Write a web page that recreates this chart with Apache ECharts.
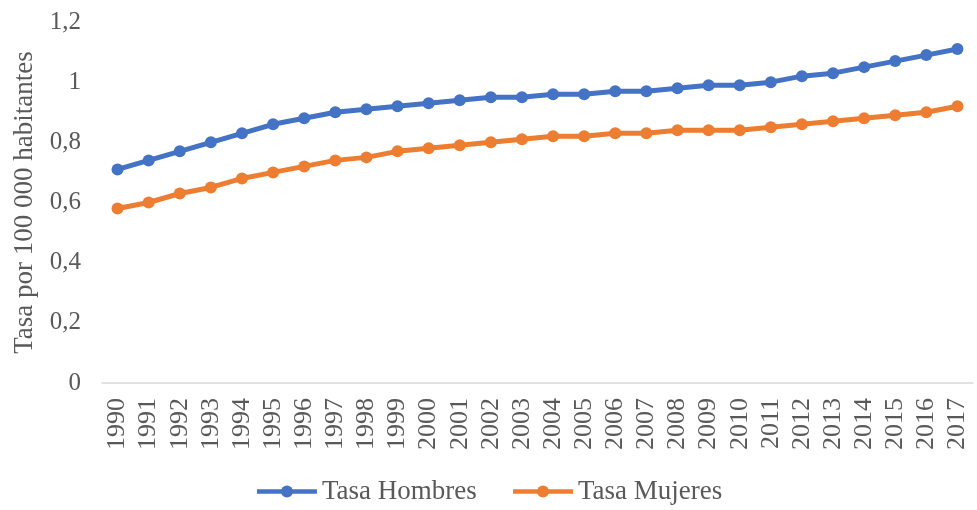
<!DOCTYPE html>
<html>
<head>
<meta charset="utf-8">
<script src="https://cdn.jsdelivr.net/npm/echarts@6/dist/echarts.min.js"></script>
<style>
  html, body { margin: 0; padding: 0; background: #ffffff; }
  #chart { width: 977px; height: 510px; }
</style>
</head>
<body>
<div id="chart"></div>
<script>
// Years on the category axis
var years = ['1990','1991','1992','1993','1994','1995','1996','1997','1998','1999',
             '2000','2001','2002','2003','2004','2005','2006','2007','2008','2009',
             '2010','2011','2012','2013','2014','2015','2016','2017'];

// Rate per 100 000 inhabitants, men
var tasaHombres = [0.71,0.74,0.77,0.80,0.83,0.86,0.88,0.90,0.91,0.92,
                   0.93,0.94,0.95,0.95,0.96,0.96,0.97,0.97,0.98,0.99,
                   0.99,1.00,1.02,1.03,1.05,1.07,1.09,1.11];

// Rate per 100 000 inhabitants, women
var tasaMujeres = [0.58,0.60,0.63,0.65,0.68,0.70,0.72,0.74,0.75,0.77,
                   0.78,0.79,0.80,0.81,0.82,0.82,0.83,0.83,0.84,0.84,
                   0.84,0.85,0.86,0.87,0.88,0.89,0.90,0.92];

var yTicks = [0, 0.2, 0.4, 0.6, 0.8, 1, 1.2];

var FONT = '"Liberation Serif", "Times New Roman", serif';
var TEXT = '#595959';

var chart = echarts.init(document.getElementById('chart'));

chart.setOption({
  animation: false,
  grid: { left: 102, right: 4, top: 22, bottom: 127, containLabel: false },
  legend: {
    bottom: 0,
    left: 'center',
    itemWidth: 60,
    itemHeight: 15,
    itemGap: 34,
    lineStyle: { width: 4.5 },
    textStyle: { fontFamily: FONT, fontSize: 27, color: TEXT },
    data: ['Tasa Hombres', 'Tasa Mujeres']
  },
  xAxis: {
    type: 'category',
    data: years,
    boundaryGap: true,
    axisLine: { show: true, lineStyle: { color: '#d9d9d9', width: 1.5 } },
    axisTick: { show: false },
    axisLabel: {
      rotate: 90,
      interval: 0,
      margin: 15,
      fontFamily: FONT,
      fontSize: 26,
      color: TEXT
    },
    splitLine: { show: false }
  },
  yAxis: {
    type: 'value',
    min: yTicks[0],
    max: yTicks[yTicks.length - 1],
    interval: 0.2,
    name: 'Tasa por 100 000 habitantes',
    nameLocation: 'middle',
    nameGap: 56,
    nameRotate: 90,
    nameTextStyle: { fontFamily: FONT, fontSize: 27, color: TEXT },
    axisLine: { show: false },
    axisTick: { show: false },
    splitLine: { show: false },
    axisLabel: {
      margin: 21,
      fontFamily: FONT,
      fontSize: 25,
      color: TEXT,
      formatter: function (v) {
        return String(Math.round(v * 10) / 10).replace('.', ',');
      }
    }
  },
  series: [
    {
      name: 'Tasa Hombres',
      type: 'line',
      data: tasaHombres,
      symbol: 'circle',
      symbolSize: 12,
      lineStyle: { color: '#4472c4', width: 5 },
      itemStyle: { color: '#4472c4' }
    },
    {
      name: 'Tasa Mujeres',
      type: 'line',
      data: tasaMujeres,
      symbol: 'circle',
      symbolSize: 12,
      lineStyle: { color: '#ed7d31', width: 5 },
      itemStyle: { color: '#ed7d31' }
    }
  ]
});
</script>
</body>
</html>
